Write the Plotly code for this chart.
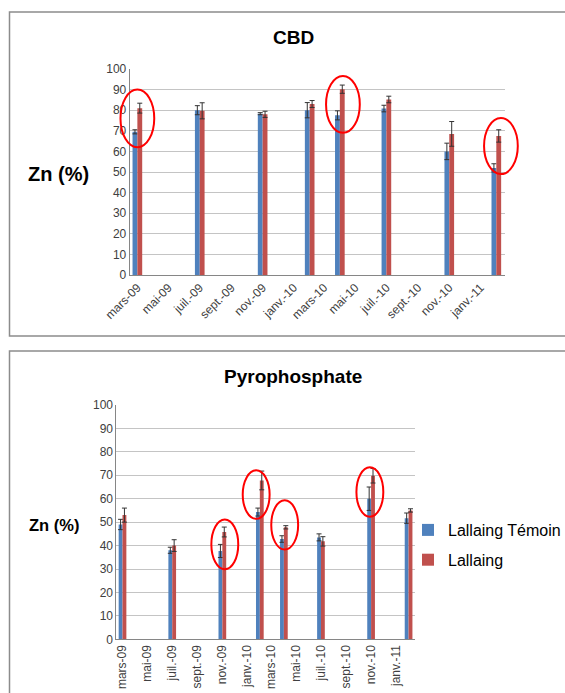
import plotly.graph_objects as go
import pandas as pd

# ---------------- data ----------------
dates = ["2009-03-01", "2009-07-01", "2009-11-01", "2010-02-01",
         "2010-04-01", "2010-07-01", "2010-11-01", "2011-02-01"]

tick_dates = ["2009-03-01", "2009-05-01", "2009-07-01", "2009-09-01",
              "2009-11-01", "2010-01-01", "2010-03-01", "2010-05-01",
              "2010-07-01", "2010-09-01", "2010-11-01", "2011-01-01"]
tick_labels = ["mars-09", "mai-09", "juil.-09", "sept.-09", "nov.-09", "janv.-10",
               "mars-10", "mai-10", "juil.-10", "sept.-10", "nov.-10", "janv.-11"]

series_names = ["Lallaing Témoin", "Lallaing"]

cbd_temoin = [69.5, 80, 78.3, 80, 77.5, 80.8, 60, 52]
cbd_temoin_err = [1, 2.2, 0.5, 3.7, 2.2, 1.6, 4, 2]
cbd_lallaing = [81, 79.7, 78, 83, 90.2, 85.2, 68.5, 67.5]
cbd_lallaing_err = [2.4, 3.9, 1.5, 1.7, 2, 1.6, 6, 3]

pyro_temoin = [49, 38, 37.7, 54.3, 42.8, 43.5, 60, 51.7]
pyro_temoin_err = [2.2, 1.3, 2.8, 1.7, 1.4, 1.5, 5, 2.2]
pyro_lallaing = [53, 40, 45.8, 67.8, 47.8, 41.8, 69.8, 55]
pyro_lallaing_err = [3, 2.5, 2.1, 4, 0.7, 2, 3.1, 0.7]

# highlighted groups (red ellipses): centre date, low value, high value
cbd_hl_dates = ["2009-03-01", "2010-04-07", "2011-02-10"]
cbd_hl_low = [62, 69, 49]
cbd_hl_high = [90, 96.6, 76.2]
pyro_hl_dates = ["2009-11-07", "2010-01-23", "2010-04-03", "2010-10-29"]
pyro_hl_low = [29.9, 51.4, 38.3, 52.3]
pyro_hl_high = [51.1, 72.1, 59.3, 73.4]

# ---------------- style ----------------
W, H = 565, 693
BLUE = "#4F81BD"
RED = "#C0504D"
FONT = "Liberation Sans"
TXT = "#404040"
X_RANGE = ["2009-02-14", "2011-02-17"]
Y_RANGE = [0, 100]

top_xdom = [129.7 / W, 504.5 / W]
top_ydom = [1 - 275 / H, 1 - 69 / H]
bot_xdom = [116.4 / W, 415.1 / W]
bot_ydom = [1 - 639.3 / H, 1 - 405 / H]

fig = go.Figure()


def add_bars(yvals, yerr, color, name, xaxis, yaxis, showlegend, group):
    fig.add_trace(go.Bar(
        x=dates, y=yvals, name=name, marker=dict(color=color, line=dict(width=0)),
        error_y=dict(type="data", array=yerr, visible=True, color="#333333",
                     thickness=1, width=2.5),
        xaxis=xaxis, yaxis=yaxis, showlegend=showlegend, legendgroup=group,
        offsetgroup=group,
    ))


add_bars(cbd_temoin, cbd_temoin_err, BLUE, series_names[0], "x", "y", False, "a")
add_bars(cbd_lallaing, cbd_lallaing_err, RED, series_names[1], "x", "y", False, "b")
add_bars(pyro_temoin, pyro_temoin_err, BLUE, series_names[0], "x2", "y2", True, "a")
add_bars(pyro_lallaing, pyro_lallaing_err, RED, series_names[1], "x2", "y2", True, "b")

axis_common_x = dict(type="date", range=X_RANGE, tickmode="array",
                     tickvals=tick_dates, ticktext=tick_labels,
                     showgrid=False, showline=True, linecolor="#868686", linewidth=1,
                     ticks="", tickfont=dict(family=FONT, size=12, color=TXT),
                     zeroline=False, automargin=False)
axis_common_y = dict(range=Y_RANGE, dtick=10, showgrid=True, gridcolor="#C4C4C4",
                     gridwidth=1, showline=True, linecolor="#868686", linewidth=1,
                     ticks="", tickfont=dict(family=FONT, size=12, color=TXT),
                     zeroline=False, automargin=False)

fig.update_layout(
    width=W, height=H, margin=dict(l=0, r=0, t=0, b=0, autoexpand=False),
    paper_bgcolor="white", plot_bgcolor="white",
    barmode="group", bargap=0.68, bargroupgap=0,
    xaxis=dict(domain=top_xdom, anchor="y", tickangle=-45, **axis_common_x),
    yaxis=dict(domain=top_ydom, anchor="x", **axis_common_y),
    xaxis2=dict(domain=bot_xdom, anchor="y2", tickangle=-90, **axis_common_x),
    yaxis2=dict(domain=bot_ydom, anchor="x2", **axis_common_y),
    legend=dict(x=408 / W, y=1 - 513 / H, xanchor="left", yanchor="top",
                font=dict(family=FONT, size=16, color="#000000"),
                bgcolor="rgba(0,0,0,0)", traceorder="grouped", tracegroupgap=6,
                itemwidth=30),
    showlegend=True,
)

# panel borders
fig.add_shape(type="rect", xref="paper", yref="paper",
              x0=9.5 / W, x1=1.02, y0=1 - 336 / H, y1=1 - 12 / H,
              line=dict(color="#8C8C8C", width=1.5), layer="below")
fig.add_shape(type="rect", xref="paper", yref="paper",
              x0=9.5 / W, x1=1.02, y0=-0.02, y1=1 - 351 / H,
              line=dict(color="#8C8C8C", width=1.5), layer="below")

# titles
def label(text, xpix, ypix, size):
    fig.add_annotation(text=text, xref="paper", yref="paper",
                       x=xpix / W, y=1 - ypix / H, xanchor="center", yanchor="middle",
                       showarrow=False, font=dict(family=FONT, size=size, color="#000000"))


label("<b>CBD</b>", 293, 38, 19)
label("<b>Pyrophosphate</b>", 292.6, 376, 19)
label("<b>Zn (%)</b>", 58, 174, 20)
label("<b>Zn (%)</b>", 53.5, 525, 16.5)

# red ellipses (paper coordinates computed from the axis scales)
t0 = pd.Timestamp(X_RANGE[0])
t1 = pd.Timestamp(X_RANGE[1])
half_w = pd.Timedelta(days=33)


def px(date, xdom):
    f = (pd.Timestamp(date) - t0) / (t1 - t0)
    return xdom[0] + f * (xdom[1] - xdom[0])


def py(v, ydom):
    f = (v - Y_RANGE[0]) / (Y_RANGE[1] - Y_RANGE[0])
    return ydom[0] + f * (ydom[1] - ydom[0])


for dlist, lo, hi, xdom, ydom in [
        (cbd_hl_dates, cbd_hl_low, cbd_hl_high, top_xdom, top_ydom),
        (pyro_hl_dates, pyro_hl_low, pyro_hl_high, bot_xdom, bot_ydom)]:
    for d, a, b in zip(dlist, lo, hi):
        c = pd.Timestamp(d)
        fig.add_shape(type="circle", xref="paper", yref="paper",
                      x0=px(c - half_w, xdom), x1=px(c + half_w, xdom),
                      y0=py(a, ydom), y1=py(b, ydom),
                      line=dict(color="#FF0000", width=2))

fig.write_html("out.html",
               config={"displayModeBar": False},
               post_script="document.body.style.margin='0';"
                           "document.body.style.overflow='hidden';")
